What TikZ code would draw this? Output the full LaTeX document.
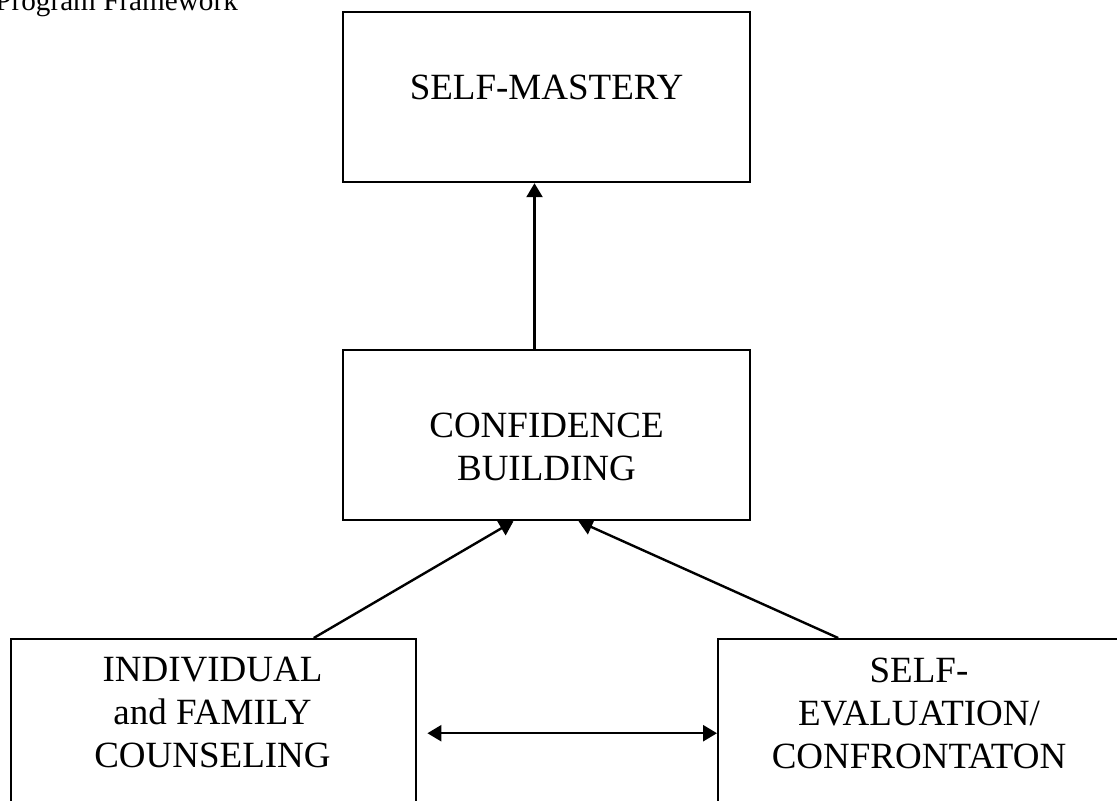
\documentclass[tikz,border=0pt]{standalone}
\usepackage{fontspec}
\setmainfont{Liberation Serif}
\usepackage{tikz}
\usetikzlibrary{arrows.meta}

\tikzset{
  box/.style={shape=rectangle,draw=black,line width=1.2pt,inner sep=0pt},
  boxtext/.style={align=center,font=\fontsize{18.5}{21.5}\selectfont},
  arrow/.style={line width=1.2pt,-{Triangle[length=7pt,width=8pt]}}
}

\begin{document}
\begin{tikzpicture}[x=0.5pt,y=-0.5pt]
\useasboundingbox (0,0) rectangle (1117,800);
\clip (0,0) rectangle (1117,800);
\node[anchor=base west,inner sep=0pt,font=\fontsize{14.6}{17}\selectfont] (title) at (-5,10) {Program Framework};
\node[box,minimum width=203.5pt,minimum height=85pt] (mastery) at (546.5,97) {};
\node[boxtext] (masterytext) at (546.5,87.5) {SELF-MASTERY};
\node[box,minimum width=203.5pt,minimum height=85pt] (confid) at (546.5,435) {};
\node[boxtext] (confidtext) at (546.5,446.5) {CONFIDENCE\\BUILDING};
\node[box,anchor=north west,minimum width=202.5pt,minimum height=90pt] (counsel) at (10,638) {};
\node[boxtext] (counseltext) at (212.5,712.5) {INDIVIDUAL\\and FAMILY\\COUNSELING};
\node[box,anchor=north west,minimum width=202pt,minimum height=90pt] (evaluate) at (717,638) {};
\node[boxtext] (evaluatetext) at (919,713) {SELF-\\EVALUATION/\\CONFRONTATON};
\path [arrow] ([xshift=-6pt]confid.north) edge ([xshift=-6pt]mastery.south);
\path [arrow] ([xshift=50pt]counsel.north) edge ([xshift=-16.5pt]confid.south);
\path [arrow] ([xshift=-41pt]evaluate.north) edge ([xshift=16pt]confid.south);
\path [arrow,{Triangle[length=7pt,width=8pt]}-{Triangle[length=7pt,width=8pt]}] ([xshift=5pt,yshift=-2pt]counsel.east) edge ([yshift=-2pt]evaluate.west);
\end{tikzpicture}
\end{document}
